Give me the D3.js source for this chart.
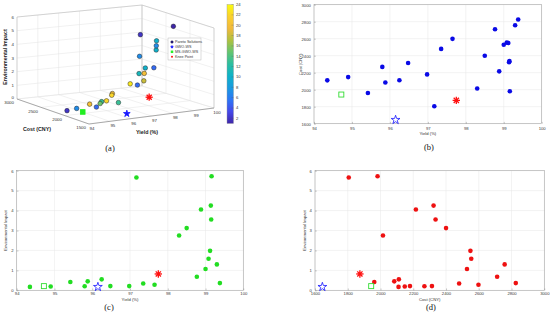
<!DOCTYPE html>
<html>
<head>
<meta charset="utf-8">
<script src="https://cdn.jsdelivr.net/npm/d3@7"></script>
<style>
body { margin: 0; background: #fff; }
text { font-family: "Liberation Sans", Arial, sans-serif; fill: #333; }
.cap { font-family: "Liberation Serif", "Times New Roman", serif; fill: #111; }
</style>
</head>
<body>
<script>
// Pareto solutions (same order in every panel)
var yieldVals = [94.35, 94.90, 95.42, 95.80, 95.88, 96.25, 96.48, 96.98, 97.17, 97.35, 97.65, 98.30, 98.50, 98.77, 98.88, 99.00, 99.08, 99.12, 99.14, 99.15, 99.16, 99.30, 99.38];
var costVals  = [2110, 2148, 1962, 2268, 2084, 2112, 2314, 2180, 1806, 2480, 2598, 2015, 2400, 2712, 2216, 2528, 2554, 2549, 2324, 2336, 1982, 2758, 2826];
var envVals   = [0.17, 0.19, 0.42, 0.20, 0.45, 0.55, 0.21, 0.21, 5.66, 0.34, 0.28, 2.75, 3.12, 0.68, 4.05, 1.07, 1.58, 1.98, 4.25, 3.55, 5.72, 1.30, 0.36];
var colorVals = [2, 7, 5, 20, 15, 22, 13, 13, 2, 22, 20, 5, 7, 23, 7, 18, 20, 10, 10, 10, 1, 11, 5];

// reference solutions [yield, cost, env]
var gwoWS   = [96.15, 1645, 0.17];
var msGwoWS = [94.72, 1943, 0.21];
var kneePt  = [97.75, 1874, 0.82];

var yieldTicks = [94, 95, 96, 97, 98, 99, 100];
var costTicks = [1600, 1800, 2000, 2200, 2400, 2600, 2800, 3000];
var costTicks3d = [1500, 2000, 2500, 3000];
var envTicks = [0, 1, 2, 3, 4, 5, 6];
var cbarTicks = [2, 4, 6, 8, 10, 12, 14, 16, 18, 20, 22, 24];
var legendNames = ["Pareto Solutions", "GWO-WS", "MS-GWO-WS", "Knee Point"];

var parulaStops = ["#3e26a8", "#4548ea", "#2d76f5", "#1a9ae0", "#0fb2c8", "#2cbea0", "#64c570", "#b0c13f", "#f2b93b", "#fbd12e", "#f9fb0e"];

var W = 550, H = 320;
var svg = d3.select("body").append("svg")
	.attr("width", W)
	.attr("height", H);

var parula = d3.scaleLinear()
	.domain(parulaStops.map(function(d, i){ return 1 + i * 23 / 10; }))
	.range(parulaStops)
	.interpolate(d3.interpolateRgb);

var idx = d3.range(yieldVals.length);

// ---------- markers ----------
function asterisk(g, x, y, r, col) {
	var a = g.append("g").attr("transform", "translate(" + x + "," + y + ")");
	[0, 45, 90, 135].forEach(function(ang){
		var t = ang * Math.PI / 180;
		a.append("line")
			.attr("x1", -r * Math.cos(t)).attr("y1", -r * Math.sin(t))
			.attr("x2", r * Math.cos(t)).attr("y2", r * Math.sin(t))
			.attr("stroke", col).attr("stroke-width", 1.3);
	});
	a.append("circle").attr("r", r * 0.45).attr("fill", col);
}
function star(g, x, y, size, fill, stroke) {
	g.append("path")
		.attr("d", d3.symbol(d3.symbolStar, size)())
		.attr("transform", "translate(" + x + "," + y + ")")
		.attr("fill", fill).attr("stroke", stroke).attr("stroke-width", 0.8);
}
function square(g, x, y, s, fill, stroke) {
	g.append("rect")
		.attr("x", x - s / 2).attr("y", y - s / 2)
		.attr("width", s).attr("height", s)
		.attr("fill", fill).attr("stroke", stroke).attr("stroke-width", 0.9);
}

// ---------- (a) 3D scatter ----------
var ga = svg.append("g");
var ys3 = d3.scaleLinear().domain([94, 100]).range([0, 1]);
var cs3 = d3.scaleLinear().domain([1500, 3000]).range([0, 1]);
var zs3 = d3.scaleLinear().domain([0, 6]).range([0, 1]);

// screen corners of the axes box (front = cost 1500 / yield 94)
var Q = [89, 124], R = [214, 108], P = [17, 99], S = [142, 86];
var Qt = [89, 43], Rt = [214, 28], Pt = [17, 17], St = [142, 5];

function lerp(a, b, t) { return [a[0] + (b[0] - a[0]) * t, a[1] + (b[1] - a[1]) * t]; }
function proj(yv, cv, ev) {
	var u = ys3(yv), v = cs3(cv), w = zs3(ev);
	var f0 = lerp(lerp(Q, R, u), lerp(P, S, u), v);
	var f1 = lerp(lerp(Qt, Rt, u), lerp(Pt, St, u), v);
	return lerp(f0, f1, w);
}
function line3(a, b, col, sw) {
	var p1 = proj(a[0], a[1], a[2]), p2 = proj(b[0], b[1], b[2]);
	ga.append("line")
		.attr("x1", p1[0]).attr("y1", p1[1]).attr("x2", p2[0]).attr("y2", p2[1])
		.attr("stroke", col).attr("stroke-width", sw || 0.5);
}

var gridCol = "#e3e3e3", edgeCol = "#b5b5b5";
// floor grid
yieldTicks.forEach(function(t){ line3([t, 1500, 0], [t, 3000, 0], gridCol); });
costTicks3d.forEach(function(t){ line3([94, t, 0], [100, t, 0], gridCol); });
// back wall (cost = 3000)
yieldTicks.forEach(function(t){ line3([t, 3000, 0], [t, 3000, 6], gridCol); });
envTicks.forEach(function(t){ line3([94, 3000, t], [100, 3000, t], gridCol); });
// side wall (yield = 100)
costTicks3d.forEach(function(t){ line3([100, t, 0], [100, t, 6], gridCol); });
envTicks.forEach(function(t){ line3([100, 1500, t], [100, 3000, t], gridCol); });
// box edges
line3([94, 3000, 0], [94, 3000, 6], edgeCol);
line3([100, 3000, 0], [100, 3000, 6], edgeCol);
line3([100, 1500, 0], [100, 1500, 6], edgeCol);
line3([94, 3000, 6], [100, 3000, 6], edgeCol);
line3([100, 3000, 6], [100, 1500, 6], edgeCol);
line3([94, 3000, 0], [94, 1500, 0], "#777", 0.6);
line3([94, 1500, 0], [100, 1500, 0], "#777", 0.6);

// tick labels
envTicks.forEach(function(t){
	var p = proj(94, 3000, t);
	ga.append("text").attr("x", p[0] - 3).attr("y", p[1] + (t == 0 ? 0 : 1.6))
		.attr("text-anchor", "end").attr("font-size", 4.4).text(t);
});
costTicks3d.forEach(function(t){
	var p = proj(94, t, 0);
	ga.append("text").attr("x", p[0] - 3).attr("y", p[1] + 5.2)
		.attr("text-anchor", "end").attr("font-size", 4.4).text(t);
});
yieldTicks.forEach(function(t){
	var p = proj(t, 1500, 0);
	ga.append("text").attr("x", p[0] + 3).attr("y", p[1] + 6)
		.attr("text-anchor", "middle").attr("font-size", 4.4).text(t);
});
ga.append("text").attr("transform", "translate(7,57) rotate(-90)")
	.attr("text-anchor", "middle").attr("font-size", 5.3).attr("font-weight", "bold")
	.style("fill", "#222").text("Environmental Impact");
ga.append("text").attr("x", 37).attr("y", 131)
	.attr("text-anchor", "middle").attr("font-size", 5.3).attr("font-weight", "bold")
	.style("fill", "#222").text("Cost (CNY)");
ga.append("text").attr("x", 147).attr("y", 134)
	.attr("text-anchor", "middle").attr("font-size", 5.3).attr("font-weight", "bold")
	.style("fill", "#222").text("Yield (%)");

// points, far ones first
var order = idx.slice().sort(function(a, b){
	return (cs3(costVals[b]) + ys3(yieldVals[b])) - (cs3(costVals[a]) + ys3(yieldVals[a]));
});
order.forEach(function(i){
	var p = proj(yieldVals[i], costVals[i], envVals[i]);
	ga.append("circle").attr("cx", p[0]).attr("cy", p[1]).attr("r", 2.3)
		.attr("fill", parula(colorVals[i])).attr("stroke", "#1a1a1a").attr("stroke-width", 0.45);
});
var pg = proj(gwoWS[0], gwoWS[1], gwoWS[2]);
star(ga, pg[0], pg[1], 14, "#1515ff", "#1515ff");
var pm = proj(msGwoWS[0], msGwoWS[1], msGwoWS[2]);
square(ga, pm[0], pm[1], 4.6, "#22ee22", "#22ee22");
var pk = proj(kneePt[0], kneePt[1], kneePt[2]);
asterisk(ga, pk[0], pk[1], 3.6, "#ff1010");

// legend
var lg = ga.append("g").attr("transform", "translate(168,38)");
lg.append("rect").attr("width", 33).attr("height", 22)
	.attr("fill", "#fff").attr("stroke", "#aaa").attr("stroke-width", 0.4);
legendNames.forEach(function(name, i){
	var yy = 4 + i * 4.9;
	if (i == 0) lg.append("circle").attr("cx", 4).attr("cy", yy).attr("r", 1.3)
		.attr("fill", "#2a1f8a").attr("stroke", "#111").attr("stroke-width", 0.3);
	if (i == 1) star(lg, 4, yy, 2, "#1515ff", "#1515ff");
	if (i == 2) square(lg, 4, yy, 1.6, "#22ee22", "#22ee22");
	if (i == 3) lg.append("circle").attr("cx", 4).attr("cy", yy).attr("r", 1).attr("fill", "#ff1010");
	lg.append("text").attr("x", 7).attr("y", yy + 1.3).attr("font-size", 3.7).text(name);
});

// colorbar
var cbY = d3.scaleLinear().domain([1, 24]).range([123.5, 4.5]);
var grad = svg.append("defs").append("linearGradient")
	.attr("id", "parula").attr("x1", 0).attr("y1", 1).attr("x2", 0).attr("y2", 0);
parulaStops.forEach(function(c, i){
	grad.append("stop").attr("offset", i / 10).attr("stop-color", c);
});
svg.append("rect").attr("x", 227).attr("y", cbY(24)).attr("width", 6.5)
	.attr("height", cbY(1) - cbY(24)).attr("fill", "url(#parula)")
	.attr("stroke", "#999").attr("stroke-width", 0.4);
cbarTicks.forEach(function(t){
	svg.append("line").attr("x1", 231.5).attr("x2", 233.5).attr("y1", cbY(t)).attr("y2", cbY(t))
		.attr("stroke", "#555").attr("stroke-width", 0.3);
	svg.append("text").attr("x", 236).attr("y", cbY(t) + 1.5).attr("font-size", 4.2).text(t);
});

svg.append("text").attr("class", "cap").attr("x", 110).attr("y", 151)
	.attr("text-anchor", "middle").attr("font-size", 8.5).text("(a)");

// ---------- 2D panels ----------
function panel(cfg) {
	var g = svg.append("g");
	var x = d3.scaleLinear().domain(cfg.xDomain).range([cfg.left, cfg.right]);
	var y = d3.scaleLinear().domain(cfg.yDomain).range([cfg.bottom, cfg.top]);
	g.append("rect").attr("x", cfg.left).attr("y", cfg.top)
		.attr("width", cfg.right - cfg.left).attr("height", cfg.bottom - cfg.top).attr("fill", "#fff");
	g.selectAll(".gx").data(cfg.xTicks).enter().append("line")
		.attr("x1", x).attr("x2", x).attr("y1", cfg.top).attr("y2", cfg.bottom)
		.attr("stroke", "#e6e6e6").attr("stroke-width", 0.5);
	g.selectAll(".gy").data(cfg.yTicks).enter().append("line")
		.attr("y1", y).attr("y2", y).attr("x1", cfg.left).attr("x2", cfg.right)
		.attr("stroke", "#e6e6e6").attr("stroke-width", 0.5);
	g.append("rect").attr("x", cfg.left).attr("y", cfg.top)
		.attr("width", cfg.right - cfg.left).attr("height", cfg.bottom - cfg.top)
		.attr("fill", "none").attr("stroke", "#9a9a9a").attr("stroke-width", 0.5);

	var fmt = d3.format("d");
	var xa = d3.axisBottom(x).tickValues(cfg.xTicks).tickFormat(fmt).tickSize(-1.8).tickPadding(cfg.xPad);
	var ya = d3.axisLeft(y).tickValues(cfg.yTicks).tickFormat(fmt).tickSize(-1.8).tickPadding(3.2);
	var gx = g.append("g").attr("transform", "translate(0," + cfg.bottom + ")").call(xa);
	var gy = g.append("g").attr("transform", "translate(" + cfg.left + ",0)").call(ya);
	[gx, gy].forEach(function(a){
		a.select(".domain").remove();
		a.selectAll("line").attr("stroke", "#777").attr("stroke-width", 0.4);
		a.selectAll("text").attr("font-size", 4.2).attr("font-family", "Liberation Sans").style("fill", "#3a3a3a");
	});

	g.append("text").attr("x", (cfg.left + cfg.right) / 2).attr("y", cfg.xLabelY)
		.attr("text-anchor", "middle").attr("font-size", 4.2).style("fill", "#333").text(cfg.xLabel);
	g.append("text").attr("transform", "translate(" + cfg.yLabelX + "," + (cfg.top + cfg.bottom) / 2 + ") rotate(-90)")
		.attr("text-anchor", "middle").attr("font-size", 4.2).style("fill", "#333").text(cfg.yLabel);
	svg.append("text").attr("class", "cap").attr("x", cfg.capX).attr("y", cfg.capY)
		.attr("text-anchor", "middle").attr("font-size", 8.5).text(cfg.caption);

	g.selectAll(".pt").data(idx).enter().append("circle")
		.attr("cx", function(i){ return x(cfg.xs[i]); })
		.attr("cy", function(i){ return y(cfg.ys[i]); })
		.attr("r", 2.3).attr("fill", cfg.color);

	cfg.specials.forEach(function(s){
		var px = x(s.v[cfg.xi]), py = y(s.v[cfg.yi]);
		if (s.kind == "square") square(g, px, py, 5, "none", "#33dd33");
		if (s.kind == "star") star(g, px, py, 24, "none", "#1515ff");
		if (s.kind == "ast") asterisk(g, px, py, 3.7, "#ff1010");
	});
}

var specials = [
	{ kind: "square", v: msGwoWS },
	{ kind: "star", v: gwoWS },
	{ kind: "ast", v: kneePt }
];

// (b) cost vs yield
panel({
	left: 314, right: 541.7, top: 4.7, bottom: 123.7,
	xDomain: [94, 100], yDomain: [1600, 3000],
	xTicks: yieldTicks, yTicks: costTicks, xPad: 3.4,
	xs: yieldVals, ys: costVals, xi: 0, yi: 1,
	color: "#0a0ae6", specials: specials,
	xLabel: "Yield (%)", xLabelY: 135, yLabel: "Cost (CNY)", yLabelX: 301.5,
	caption: "(b)", capX: 429, capY: 149.5
});

// (c) env vs yield
panel({
	left: 16.7, right: 243.3, top: 170.7, bottom: 290.3,
	xDomain: [94, 100], yDomain: [0, 6],
	xTicks: yieldTicks, yTicks: envTicks, xPad: 2.2,
	xs: yieldVals, ys: envVals, xi: 0, yi: 2,
	color: "#22dd22", specials: specials,
	xLabel: "Yield (%)", xLabelY: 301.2, yLabel: "Environmental Impact", yLabelX: 6.5,
	caption: "(c)", capX: 109, capY: 309.5
});

// (d) env vs cost
panel({
	left: 315, right: 544.3, top: 170.7, bottom: 290.3,
	xDomain: [1600, 3000], yDomain: [0, 6],
	xTicks: costTicks, yTicks: envTicks, xPad: 2.2,
	xs: costVals, ys: envVals, xi: 1, yi: 2,
	color: "#ee1111", specials: specials,
	xLabel: "Cost (CNY)", xLabelY: 301.2, yLabel: "Environmental Impact", yLabelX: 305.8,
	caption: "(d)", capX: 431, capY: 310
});
</script>
</body>
</html>
